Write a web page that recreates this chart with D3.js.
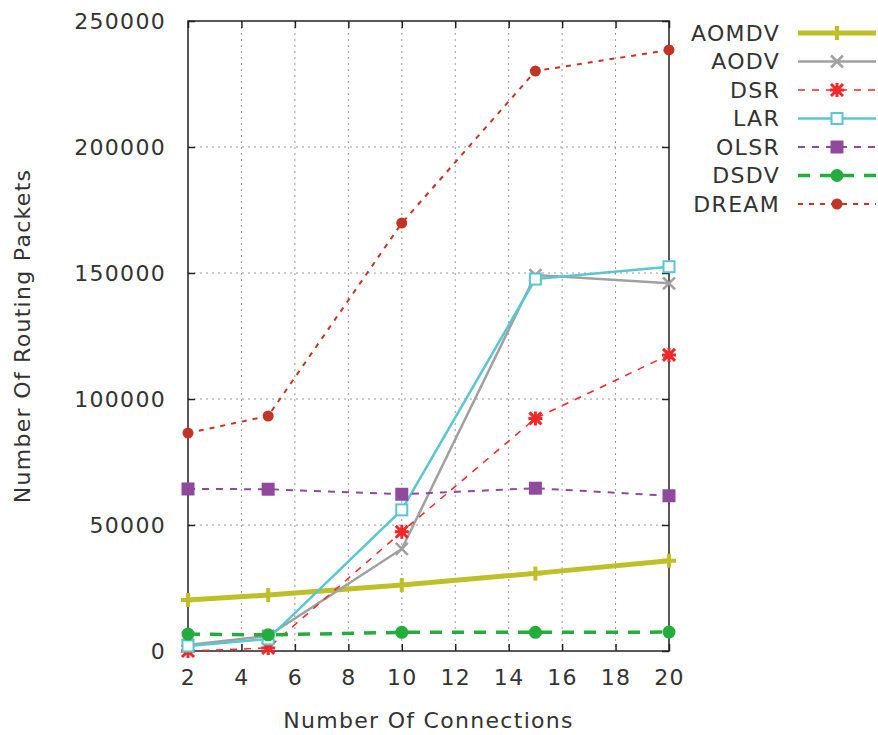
<!DOCTYPE html>
<html><head><meta charset="utf-8">
<script src="https://cdn.jsdelivr.net/npm/d3@7"></script>
<style>body{margin:0;background:#fff}svg{display:block}text{font-family:"DejaVu Sans",sans-serif;fill:#333;letter-spacing:1.3px}</style>
</head><body><div id="chart"></div>
<script>
const connections = [2, 5, 10, 15, 20];
const xTicks = [2, 4, 6, 8, 10, 12, 14, 16, 18, 20];
const yTicks = [0, 50000, 100000, 150000, 200000, 250000];
const seriesNames = ["AOMDV", "AODV", "DSR", "LAR", "OLSR", "DSDV", "DREAM"];
const aomdv = [20200, 22200, 26200, 30800, 35800];
const aodv = [2400, 6000, 40500, 149200, 145900];
const dsr = [0, 1200, 47300, 92300, 117500];
const lar = [2000, 4800, 56000, 147600, 152500];
const olsr = [64300, 64200, 62200, 64600, 61600];
const dsdv = [6700, 6400, 7400, 7400, 7500];
const dream = [86500, 93250, 169800, 230150, 238500];

const W = 878, H = 735;
const m = {l: 188, r: 669, t: 21, b: 651};
const svg = d3.select("#chart").append("svg").attr("width", W).attr("height", H);
const x = d3.scaleLinear().domain([2, 20]).range([m.l, m.r]);
const y = d3.scaleLinear().domain([0, 250000]).range([m.b, m.t]);

// grid
const g = svg.append("g");
g.selectAll(".gx").data(xTicks.slice(1, -1)).join("line")
  .attr("x1", d => x(d)).attr("x2", d => x(d)).attr("y1", m.t).attr("y2", m.b)
  .attr("stroke", "#999").attr("stroke-width", 1).attr("stroke-dasharray", "2,4");
g.selectAll(".gy").data(yTicks.slice(1, -1)).join("line")
  .attr("y1", d => y(d)).attr("y2", d => y(d)).attr("x1", m.l).attr("x2", m.r)
  .attr("stroke", "#999").attr("stroke-width", 1).attr("stroke-dasharray", "2,4");

// axes (gnuplot style, inward ticks, mirrored)
const fs = 22;
const ax = svg.append("g").attr("transform", `translate(0,${m.b})`)
  .call(d3.axisBottom(x).tickValues(xTicks).tickSize(-7).tickPadding(18));
const axT = svg.append("g").attr("transform", `translate(0,${m.t})`)
  .call(d3.axisTop(x).tickValues(xTicks).tickSize(-7).tickFormat(""));
const ay = svg.append("g").attr("transform", `translate(${m.l},0)`)
  .call(d3.axisLeft(y).tickValues(yTicks).tickSize(-7).tickPadding(22).tickFormat(d3.format("d")));
const ayR = svg.append("g").attr("transform", `translate(${m.r},0)`)
  .call(d3.axisRight(y).tickValues(yTicks).tickSize(-7).tickFormat(""));
[ax, axT, ay, ayR].forEach(a => {
  a.select(".domain").remove();
  a.selectAll("line").attr("stroke", "#222").attr("stroke-width", 1.5);
  a.selectAll("text").attr("font-size", fs).attr("font-family", "DejaVu Sans").attr("fill", "#333");
});
svg.append("rect").attr("x", m.l).attr("y", m.t).attr("width", m.r - m.l).attr("height", m.b - m.t)
  .attr("fill", "none").attr("stroke", "#222").attr("stroke-width", 1.5);

// axis titles
svg.append("text").attr("x", (m.l + m.r) / 2).attr("y", 728).attr("text-anchor", "middle")
  .attr("font-size", fs).text("Number Of Connections");
svg.append("text").attr("transform", `translate(30,${(m.t + m.b) / 2}) rotate(-90)`)
  .attr("text-anchor", "middle").attr("font-size", fs).text("Number Of Routing Packets");

const styles = {
  AOMDV: {data: aomdv, color: "#bfbf2a", w: 5, dash: null, marker: "plus"},
  AODV: {data: aodv, color: "#a0a0a0", w: 2.5, dash: null, marker: "cross"},
  DSR: {data: dsr, color: "#f02828", w: 1.5, dash: "7,7", marker: "star"},
  LAR: {data: lar, color: "#5ac6d2", w: 2.5, dash: null, marker: "osquare"},
  OLSR: {data: olsr, color: "#8f4a9e", w: 2, dash: "7,7", marker: "square"},
  DSDV: {data: dsdv, color: "#22ad3c", w: 3.5, dash: "12,10", marker: "circle"},
  DREAM: {data: dream, color: "#c03525", w: 2, dash: "5,6", marker: "dot"}
};

function drawMarker(sel, type, color) {
  if (type === "plus") {
    sel.append("path").attr("d", "M-7,0H7M0,-7V7").attr("stroke", color).attr("stroke-width", 4);
  } else if (type === "cross") {
    sel.append("path").attr("d", "M-6,-6L6,6M-6,6L6,-6").attr("stroke", color).attr("stroke-width", 2.5);
  } else if (type === "star") {
    sel.append("path").attr("d", "M-6,-6L6,6M-6,6L6,-6M0,-7V7M-7,0H7").attr("stroke", color).attr("stroke-width", 3);
    sel.append("circle").attr("r", 3.5).attr("fill", color);
  } else if (type === "osquare") {
    sel.append("rect").attr("x", -5.5).attr("y", -5.5).attr("width", 11).attr("height", 11)
      .attr("fill", "#fff").attr("stroke", color).attr("stroke-width", 2);
  } else if (type === "square") {
    sel.append("rect").attr("x", -6.5).attr("y", -6.5).attr("width", 13).attr("height", 13).attr("fill", color);
  } else if (type === "circle") {
    sel.append("circle").attr("r", 6.5).attr("fill", color);
  } else if (type === "dot") {
    sel.append("circle").attr("r", 5.5).attr("fill", color);
  }
}

const line = d3.line().x((d, i) => x(connections[i])).y(d => y(d));
seriesNames.forEach((name, k) => {
  const s = styles[name];
  const gs = svg.append("g");
  gs.append("path").datum(s.data).attr("d", line).attr("fill", "none")
    .attr("stroke", s.color).attr("stroke-width", s.w)
    .attr("stroke-dasharray", s.dash);
  gs.selectAll("g.mk").data(s.data).join("g").attr("class", "mk")
    .attr("transform", (d, i) => `translate(${x(connections[i])},${y(d)})`)
    .each(function () { drawMarker(d3.select(this), s.marker, s.color); });

  // legend
  const ly = 33 + k * 28.5;
  svg.append("text").attr("x", 780).attr("y", ly).attr("dy", "0.35em").attr("text-anchor", "end")
    .attr("font-size", fs).text(name);
  svg.append("line").attr("x1", 798).attr("x2", 876).attr("y1", ly).attr("y2", ly)
    .attr("stroke", s.color).attr("stroke-width", s.w).attr("stroke-dasharray", s.dash);
  const lm = svg.append("g").attr("transform", `translate(837,${ly})`);
  drawMarker(lm, s.marker, s.color);
});
</script></body></html>
